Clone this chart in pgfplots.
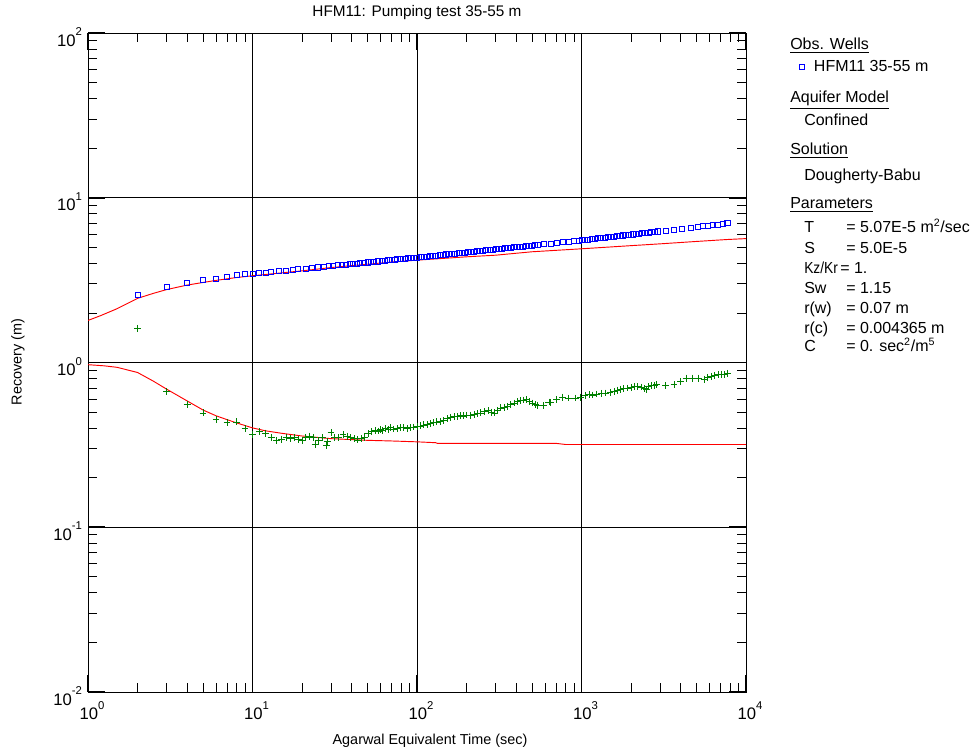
\documentclass[border=0pt]{standalone}
\usepackage{fontspec}
\setmainfont{Liberation Sans}
\usepackage{graphicx}
\usepackage{pgfplots}
\pgfplotsset{compat=1.18}
\definecolor{obsblue}{RGB}{0,0,255}
\definecolor{obsgreen}{RGB}{0,128,0}
\definecolor{fitred}{RGB}{255,0,0}
\newcommand{\tl}[1]{10\raisebox{8pt}{\fontsize{8.5}{9}\selectfont #1}}
\begin{document}
\begin{tikzpicture}
\path[use as bounding box] (0pt,0pt) rectangle (735pt,564.75pt);
\begin{axis}[
  at={(66pt,45.75pt)}, anchor=south west, scale only axis,
  width=493.5pt, height=494.25pt,
  xmode=log, ymode=log,
  xmin=1, xmax=10000, ymin=0.01, ymax=100,
  xtick={1,10,100,1000,10000},
  xticklabels={\tl{0},\tl{1},\tl{2},\tl{3},\tl{4}},
  ytick={0.01,0.1,1,10,100},
  yticklabels={\tl{-2},\tl{-1},\tl{0},\tl{1},\tl{2}},
  minor xtick={2,3,4,5,6,7,8,9,20,30,40,50,60,70,80,90,200,300,400,500,600,700,800,900,2000,3000,4000,5000,6000,7000,8000,9000},
  minor ytick={0.02,0.03,0.04,0.05,0.06,0.07,0.08,0.09,0.2,0.3,0.4,0.5,0.6,0.7,0.8,0.9,2,3,4,5,6,7,8,9,20,30,40,50,60,70,80,90},
  tick align=inside,
  major tick length=12.5pt, minor tick length=6.5pt,
  every major tick/.append style={black, line width=1.2pt},
  every minor tick/.append style={black, line width=0.6pt},
  grid=major,
  major grid style={black, line width=0.7pt},
  axis line style={black, line width=0.7pt},
  tick label style={font=\fontsize{12.5}{14}\selectfont},
  xticklabel style={anchor=north, yshift=-3.5pt, xshift=3pt},
  yticklabel style={anchor=east, xshift=-1pt, yshift=-3pt},
  legend style={at={(rel axis cs:1.081,0.948)}, anchor=west, draw=none, fill=none, inner sep=0pt,
    font=\fontsize{12}{14}\selectfont, legend cell align=left},
]
\addplot[fitred, line width=0.7pt, forget plot] coordinates {
(1,1.80)(1.2,1.93)(1.5,2.12)(2,2.45)(2.5,2.63)(3,2.77)(4,2.95)(5,3.06)(6,3.15)(7,3.22)(8,3.28)(10,3.36)
(15,3.50)(20,3.60)(30,3.77)(50,3.95)(70,4.07)(100,4.18)(200,4.38)(300,4.48)(500,4.70)(1000,4.90)
(2000,5.12)(3000,5.25)(5000,5.43)(7710,5.58)(10000,5.65)};
\addplot[fitred, line width=0.7pt, forget plot] coordinates {
(1,0.97)(1.25,0.955)(1.5,0.935)(2,0.87)(2.5,0.77)(3,0.69)(4,0.585)(5,0.515)(6,0.475)(7,0.45)(8,0.43)
(10,0.401)(12,0.385)(15,0.372)(20,0.358)(30,0.345)(50,0.337)(70,0.334)(100,0.330)(130,0.326)(133,0.323)
(700,0.323)(800,0.318)(10000,0.318)};
\addplot[obsblue, only marks, mark=square, mark size=1.9pt, mark options={line width=0.6pt}] coordinates {
(2,2.57)(3,2.88)(4,3.05)(5,3.17)(6,3.22)(7,3.33)(8,3.38)(9,3.43)(10,3.45)(11,3.49)(12,3.52)
(13,3.54)(14.5,3.58)(16,3.62)(17.5,3.65)(19,3.68)(21,3.72)(23,3.75)(25,3.78)(27,3.81)(29,3.84)
(31,3.86)(33,3.89)(35,3.91)(37,3.93)(39,3.95)(41,3.97)(43,3.99)(45,4.01)(47.5,4.03)(50,4.05)
(52.5,4.07)(55,4.09)(58,4.11)(61,4.13)(64,4.15)(67,4.17)(70,4.19)(73,4.21)(76,4.23)(80,4.25)
(84,4.27)(88,4.29)(92,4.31)(96,4.33)(100,4.34)(105,4.36)(110,4.38)(115,4.40)(120,4.42)(125,4.44)
(131,4.46)(137,4.48)(143,4.50)(150,4.53)(157,4.55)(164,4.57)(171,4.59)(179,4.61)(187,4.63)(195,4.65)
(204,4.67)(213,4.69)(222,4.71)(232,4.74)(242,4.76)(253,4.78)(264,4.80)(276,4.82)(288,4.84)(300,4.87)
(313,4.89)(327,4.91)(341,4.93)(356,4.95)(372,4.98)(388,5.00)(405,5.02)(423,5.04)(441,5.06)(460,5.09)
(480,5.11)(500,5.13)(520,5.15)(540,5.17)(590,5.22)(649,5.27)(705,5.32)(774,5.37)(838,5.41)(899,5.45)
(964,5.49)(1000,5.52)(1050,5.55)(1100,5.58)(1150,5.61)(1200,5.64)(1260,5.67)(1320,5.70)(1380,5.73)
(1440,5.76)(1500,5.79)(1570,5.82)(1640,5.85)(1710,5.87)(1790,5.91)(1870,5.94)(1950,5.96)(2040,5.99)
(2130,6.03)(2230,6.06)(2330,6.09)(2440,6.12)(2550,6.15)(2660,6.18)(2780,6.21)(2900,6.25)(3250,6.33)
(3650,6.41)(4100,6.50)(4610,6.59)(5070,6.66)(5450,6.72)(5830,6.77)(6270,6.83)(6700,6.88)(7190,6.94)
(7710,7.00)};
\addlegendentry{\hspace{5pt}HFM11 35-55 m}
\addplot[obsgreen, only marks, mark=+, mark size=2.6pt, mark options={line width=0.6pt}, forget plot] coordinates {
(2,1.61)(3,0.668)(4,0.555)(5,0.494)(6,0.450)(7,0.434)(8,0.436)(9,0.397)(10,0.365)(11,0.380)(12,0.373)
(13,0.349)(14,0.336)(15,0.343)(16,0.349)(17,0.345)(18,0.349)(19,0.340)(20,0.336)(21,0.349)(22.2,0.357)
(23.5,0.349)(24,0.318)(25.3,0.336)(26.5,0.349)(28.1,0.315)(28.6,0.333)(30,0.374)(31.4,0.349)(33.4,0.349)
(35.5,0.365)(37.5,0.357)(39.2,0.349)(41.4,0.345)(43.5,0.339)(45.6,0.344)(47.9,0.349)(50.3,0.369)
(52.8,0.380)(56,0.386)(58,0.384)(60,0.391)(62,0.388)(64.4,0.397)(67,0.392)(69,0.401)(72,0.395)
(75.8,0.397)(79,0.402)(83,0.401)(87,0.398)(91,0.403)(95,0.406)(100,0.410)(105,0.412)(110,0.418)
(115,0.420)(120,0.425)(126,0.430)(132,0.436)(138,0.438)(145,0.444)(152,0.455)(160,0.465)(168,0.468)
(176,0.472)(184,0.476)(192,0.474)(201,0.480)(211,0.478)(222,0.486)(233,0.490)(244,0.494)(258,0.502)
(273,0.510)(284,0.500)(295,0.494)(308,0.512)(322,0.530)(338,0.536)(354,0.542)(371,0.555)(389,0.568)
(408,0.578)(427,0.586)(443,0.592)(460,0.595)(482,0.580)(504,0.568)(522,0.556)(540,0.549)(590,0.547)
(634,0.576)(650,0.573)(705,0.595)(765,0.617)(838,0.609)(915,0.609)(985,0.617)(1050,0.628)(1110,0.638)
(1170,0.635)(1240,0.644)(1320,0.650)(1400,0.653)(1490,0.660)(1580,0.667)(1650,0.680)(1730,0.690)
(1810,0.695)(1900,0.700)(2000,0.708)(2090,0.716)(2200,0.712)(2300,0.710)(2400,0.698)(2470,0.690)
(2560,0.712)(2660,0.723)(2760,0.728)(2860,0.733)(3250,0.723)(3650,0.733)(4010,0.767)(4330,0.804)
(4700,0.804)(5160,0.804)(5560,0.793)(5850,0.812)(6130,0.823)(6450,0.830)(6770,0.843)(7130,0.850)
(7400,0.848)(7710,0.860)};
\end{axis}
\begin{scope}[x=0.75pt,y=0.75pt]
% title and axis labels
\node[font=\fontsize{11.5}{13}\selectfont] at (417,740) {HFM11: Pumping test 35-55 m};
\node[font=\fontsize{10.8}{13}\selectfont] at (430,12) {Agarwal Equivalent Time (sec)};
\node[font=\fontsize{10.8}{13}\selectfont, rotate=90] at (18,391) {Recovery (m)};
% side panel
\begin{scope}[every node/.style={anchor=base west, inner sep=0pt, font=\fontsize{12}{14}\selectfont}]
\node at (790,703) {\underline{Obs. Wells}};
\node at (790,650) {\underline{Aquifer Model}};
\node at (804,627) {Confined};
\node at (790,598) {\underline{Solution}};
\node at (804,572.3) {Dougherty-Babu};
\node at (790,544) {\underline{Parameters}};
\node at (804,520.3) {T};
\node at (846,520.3) {= 5.07E-5 m\textsuperscript{2}/sec};
\node at (804,499.7) {S};
\node at (846,499.7) {= 5.0E-5};
\node at (804,479) {\scalebox{0.86}[1]{Kz/Kr}};
\node at (840,479) {= 1.};
\node at (804,459.7) {Sw};
\node at (846,459.7) {= 1.15};
\node at (804,439.7) {r(w)};
\node at (846,439.7) {= 0.07 m};
\node at (804,419.7) {r(c)};
\node at (846,419.7) {= 0.004365 m};
\node at (804,401.3) {C};
\node at (846,401.3) {= 0. sec\textsuperscript{2}/m\textsuperscript{5}};
\end{scope}
\end{scope}
\end{tikzpicture}
\end{document}
